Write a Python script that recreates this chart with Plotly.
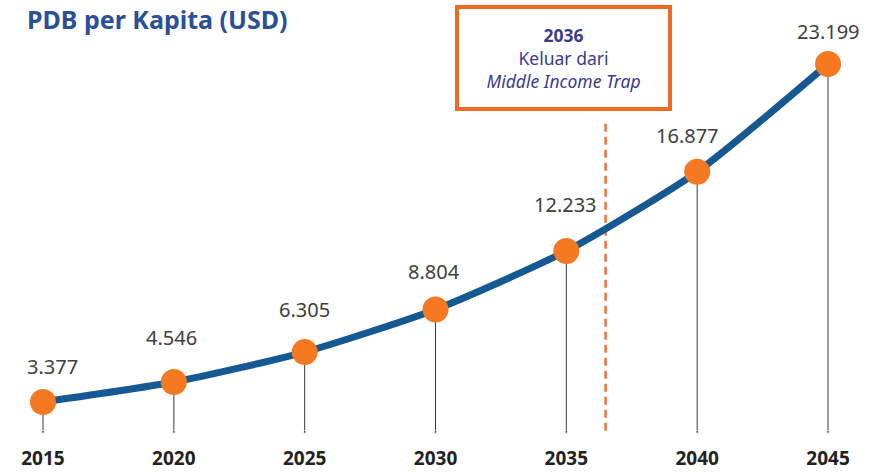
import plotly.graph_objects as go

years = [2015, 2020, 2025, 2030, 2035, 2040, 2045]
gdp = [3377, 4546, 6305, 8804, 12233, 16877, 23199]
labels = ["3.377", "4.546", "6.305", "8.804", "12.233", "16.877", "23.199"]
tick_labels = ["2015", "2020", "2025", "2030", "2035", "2040", "2045"]
trap_year = 2036.5
base_value = 1618

# label offsets (pixels) relative to each marker centre
label_dx = [10, -2, 0, -2, -1, -10, 0]
label_dy = [35, 45, 43, 38, 46, 36, 32]

fig = go.Figure()

# drop lines
for x, y in zip(years, gdp):
    fig.add_trace(go.Scatter(
        x=[x, x], y=[y, base_value], mode="lines+markers",
        line=dict(color="#3a3a3a", width=1),
        marker=dict(size=[0, 3], color="#3a3a3a"),
        hoverinfo="skip", showlegend=False))

# dashed trap line
fig.add_trace(go.Scatter(
    x=[trap_year, trap_year], y=[19700, 1450], mode="lines",
    line=dict(color="#f4703a", width=2.5, dash="8px,5px"),
    hoverinfo="skip", showlegend=False))

# main line
fig.add_trace(go.Scatter(
    x=years, y=gdp, mode="lines", line=dict(color="#155892", width=7, shape="spline", smoothing=0.6),
    hoverinfo="skip", showlegend=False))

fig.add_trace(go.Scatter(
    x=years, y=gdp, mode="markers",
    marker=dict(size=26, color="#f47920"),
    showlegend=False))

for x, y, t, dx, dy in zip(years, gdp, labels, label_dx, label_dy):
    fig.add_annotation(x=x, y=y, text=t, showarrow=False,
                       xshift=dx, yshift=dy, xanchor="center", yanchor="middle",
                       font=dict(family="Noto Sans", size=20, color="#404040"))

fig.add_annotation(
    xref="paper", yref="paper", x=0.029, y=1.0, xanchor="left", yanchor="top",
    text="<b>PDB per Kapita (USD)</b>", showarrow=False,
    font=dict(family="Noto Sans", size=25, color="#2a5096"))

fig.add_annotation(
    xref="paper", yref="paper", x=563.5 / 878, y=1 - 58 / 437,
    xanchor="center", yanchor="middle",
    text="<b>2036</b><br>Keluar dari<br><i>Middle Income Trap</i>",
    showarrow=False, align="center",
    font=dict(family="Noto Sans", size=17.5, color="#3b3b8f"),
    bordercolor="#f06a24", borderwidth=4, borderpad=8,
    width=193, height=82, bgcolor="white")

fig.update_layout(
    width=878, height=472,
    margin=dict(l=0, r=0, t=0, b=35),
    plot_bgcolor="white", paper_bgcolor="white",
    xaxis=dict(range=[2013.357, 2046.91], tickvals=years,
               ticktext=["<b>%s</b>" % t for t in tick_labels],
               showgrid=False, zeroline=False, showline=False,
               tickfont=dict(family="Noto Sans", size=19, color="#222222"),
               ticks="", ticklabelstandoff=8),
    yaxis=dict(range=[1324, 26952], visible=False, showgrid=False),
)

fig.write_html("out.html", config={"displayModeBar": False},
               post_script="document.body.style.margin='0';")
